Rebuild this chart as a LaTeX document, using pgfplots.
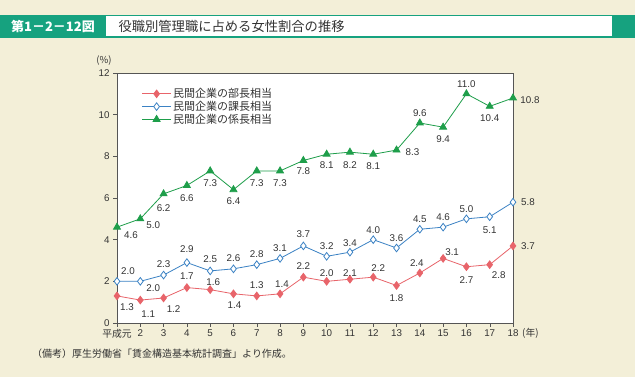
\documentclass[border=0pt]{standalone}
\usepackage{fontspec}
\setmainfont{Liberation Sans}
\newfontfamily\cjk{Noto Sans CJK JP}
\usepackage{pgfplots}
\pgfplotsset{compat=1.18}
\usepackage{pgfplotstable}
\definecolor{bg}{HTML}{F3EFD8}
\definecolor{hdr}{HTML}{16A27F}
\definecolor{cred}{HTML}{E8646A}
\definecolor{cblue}{HTML}{3B82C4}
\definecolor{cgreen}{HTML}{1E9E4A}
\definecolor{axc}{HTML}{555555}
\definecolor{txt}{HTML}{333333}
\pgfplotstableread{
x y dx dy
1 1.3 10 -11
2 1.1 8 -14
3 1.2 10 -11
4 1.7 0 11
5 1.6 3 8
6 1.4 1 -11
7 1.3 0 11
8 1.4 2 10
9 2.2 0 11
10 2.0 0 8
11 2.1 0 6
12 2.2 5 9
13 1.8 0 -13
14 2.4 -3 10
15 3.1 9 6
16 2.7 0 -13
17 2.8 9 -10
18 3.7 15 0
}\bucho
\pgfplotstableread{
x y dx dy
1 2.0 11 10
2 2.0 13 -7
3 2.3 0 11
4 2.9 0 13
5 2.5 0 12
6 2.6 0 11
7 2.8 0 11
8 3.1 0 10
9 3.7 0 12
10 3.2 0 10
11 3.4 0 9
12 4.0 0 10
13 3.6 0 10
14 4.5 0 10
15 4.6 0 10
16 5.0 0 10
17 5.1 0 -13
18 5.8 15 0
}\kacho
\pgfplotstableread{
x y dx dy
1 4.6 14 -8
2 5.0 13 -6
3 6.2 0 -14
4 6.6 0 -13
5 7.3 0 -12
6 6.4 0 -11
7 7.3 0 -12
8 7.3 0 -12
9 7.8 0 -11
10 8.1 0 -11
11 8.2 0 -13
12 8.1 0 -12
13 8.3 16 -2
14 9.6 0 10
15 9.4 0 -12
16 11.0 0 10
17 10.4 0 -12
18 10.8 17 -2
}\kakaricho
\begin{document}
\begin{tikzpicture}
\fill[bg] (0pt,0pt) rectangle (635pt,377pt);
\useasboundingbox (0pt,0pt) rectangle (635pt,377pt);
\fill[hdr] (0pt,339pt) rectangle (635pt,362pt);
\fill[white] (106pt,340.5pt) rectangle (612pt,360.5pt);
\node[anchor=center, text=white, font=\cjk\bfseries\fontsize{13}{15}\selectfont] at (53pt,350.5pt) {第1－2－12図};
\node[anchor=west, text=txt, font=\cjk\fontsize{13.3}{15}\selectfont] at (115pt,350.5pt) {役職別管理職に占める女性割合の推移};
\begin{axis}[
  scale only axis, width=396pt, height=250pt,
  at={(117pt,54pt)}, anchor=south west,
  xmin=1, xmax=18, ymin=0, ymax=12,
  xtick={1,...,18}, ytick={0,2,...,12},
  xticklabels={{\cjk 平成元},2,3,4,5,6,7,8,9,10,11,12,13,14,15,16,17,18},
  xtick pos=left, ytick pos=left, tick align=outside, major tick length=4pt,
  axis line style={axc}, tick style={axc, thin},
  axis background/.style={fill=white},
  /pgf/number format/assume math mode=true,
  tick label style={font=\fontsize{9.8}{11}\selectfont, text=txt},
  xticklabel style={yshift=1pt},
  legend style={draw=none, fill=none, at={(0.055,0.955)}, anchor=north west,
    font=\cjk\fontsize{11}{12.5}\selectfont, text=txt, row sep=-2pt},
  legend cell align=left,
  legend image code/.code={\draw[mark repeat=2,mark phase=2,#1] plot coordinates {(0cm,0cm) (0.5cm,0cm) (1cm,0cm)};},
  clip=false,
  every node near coord/.append style={font=\fontsize{9.8}{11}\selectfont, text=txt},
]
\addplot[cred, thick, mark=diamond*, mark size=3.8pt, mark options={fill=cred, solid},
  nodes near coords={\pgfmathprintnumber[fixed,fixed zerofill,precision=1]{\pgfplotspointmeta}},
  visualization depends on={\thisrow{dx}\as\ldx},
  visualization depends on={\thisrow{dy}\as\ldy},
  every node near coord/.append style={anchor=center, xshift=\ldx pt, yshift=\ldy pt}]
  table[x=x,y=y] {\bucho};
\addlegendentry{民間企業の部長相当}
\addplot[cblue, thick, mark=diamond*, mark size=3.8pt, mark options={fill=white, solid, thick},
  nodes near coords={\pgfmathprintnumber[fixed,fixed zerofill,precision=1]{\pgfplotspointmeta}},
  visualization depends on={\thisrow{dx}\as\ldx},
  visualization depends on={\thisrow{dy}\as\ldy},
  every node near coord/.append style={anchor=center, xshift=\ldx pt, yshift=\ldy pt}]
  table[x=x,y=y] {\kacho};
\addlegendentry{民間企業の課長相当}
\addplot[cgreen, thick, mark=triangle*, mark size=4pt, mark options={fill=cgreen, solid},
  nodes near coords={\pgfmathprintnumber[fixed,fixed zerofill,precision=1]{\pgfplotspointmeta}},
  visualization depends on={\thisrow{dx}\as\ldx},
  visualization depends on={\thisrow{dy}\as\ldy},
  every node near coord/.append style={anchor=center, xshift=\ldx pt, yshift=\ldy pt}]
  table[x=x,y=y] {\kakaricho};
\addlegendentry{民間企業の係長相当}
\end{axis}
\node[text=txt, font=\cjk\fontsize{9.5}{11}\selectfont] at (104pt,316pt) {(\%)};
\node[anchor=west, text=txt, font=\cjk\fontsize{9.8}{11}\selectfont, inner sep=0pt] at (522pt,44pt) {(年)};
\node[anchor=west, text=txt, font=\cjk\fontsize{10}{12}\selectfont, inner sep=0pt] at (32pt,23pt) {（備考）厚生労働省「賃金構造基本統計調査」より作成。};
\end{tikzpicture}
\end{document}
